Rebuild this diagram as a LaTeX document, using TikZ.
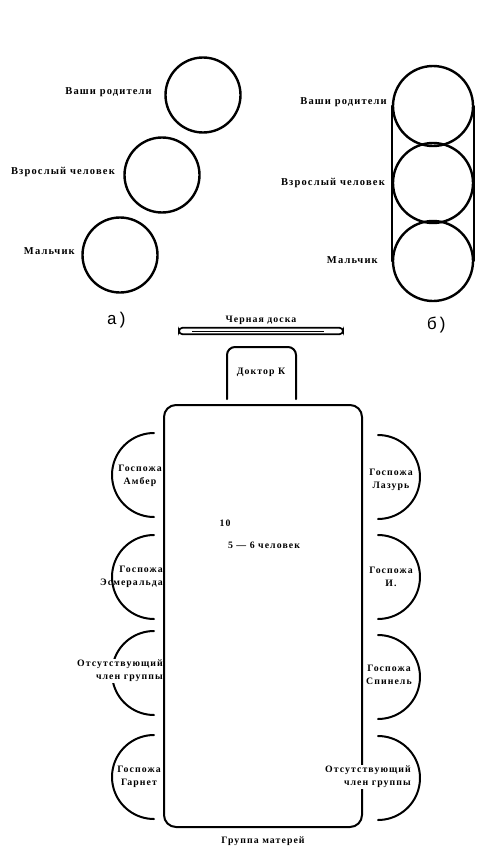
\documentclass[tikz,border=0pt]{standalone}
\usepackage{fontspec}
\setmainfont{Liberation Serif}[LetterSpace=11]
\newfontfamily\partfont{Liberation Mono}
\usetikzlibrary{positioning,calc}

\begin{document}
\begin{tikzpicture}[
    x=1pt, y=-1pt,
    ring/.style={circle, draw=black, line width=2.4pt, minimum size=75pt, inner sep=0pt},
    bigring/.style={ring, minimum size=80pt},
    tag/.style={font=\fontsize{10.5}{12}\selectfont\bfseries, inner sep=0pt},
    seat/.style={font=\fontsize{9.8}{13}\selectfont\bfseries, align=center, inner sep=1pt},
    part/.style={font=\partfont\fontsize{17}{17}\selectfont, inner sep=0pt},
    edge/.style={line width=2pt, line cap=round},
    board/.style={draw, line width=1.7pt, rounded corners=3.5pt, minimum width=164pt, minimum height=6.5pt, inner sep=0pt},
    table/.style={draw, line width=2pt, rounded corners=12pt, minimum width=198pt, minimum height=422pt}
]
\useasboundingbox (0,0) rectangle (481,851);

% a) circles apart
\node[ring] (parentsA) at (203,95) {};
\node[ring] (adultA) at (162,175) {};
\node[ring] (boyA) at (120,255) {};
\node[tag, anchor=east] (parentsAtext) at (152,92) {Ваши родители};
\node[tag, anchor=east] (adultAtext) at (115,172) {Взрослый человек};
\node[tag, anchor=east] (boyAtext) at (75,251) {Мальчик};
\node[part] (partA) at (117,320) {а)};

% b) circles held together
\node[bigring] (parentsB) at (433,106) {};
\node[bigring] (adultB) at (433,183) {};
\node[bigring] (boyB) at (433,261) {};
\draw[edge] (parentsB.west) -- (boyB.west);
\draw[edge] (parentsB.east) -- (boyB.east);
\node[tag, anchor=east] (parentsBtext) at (387,102) {Ваши родители};
\node[tag, anchor=east] (adultBtext) at (385,183) {Взрослый человек};
\node[tag, anchor=east] (boyBtext) at (378,260) {Мальчик};
\node[part] (partB) at (437,325) {б)};

% blackboard and doctor
\node[board] (board) at (261,331) {};
\draw[line width=0.6pt] ([xshift=14pt]board.west) -- ([xshift=-20pt]board.east);
\node[seat] (boardtext) at (261,320) {Черная доска};
\node[seat] (doctor) at (261,372) {Доктор К};
\draw[edge, rounded corners=8pt] (227,399) -- (227,347) -- (296,347) -- (296,399);

% seats on the left
\foreach \y in {475,577,673,777}
  \draw[edge] plot[domain=90:270, samples=40] ({154+42*cos(\x)},{\y+42*sin(\x)});
\node[seat] (amber) at (140,476) {Госпожа\\Амбер};
\node[seat, align=right, anchor=east] (esmeralda) at (164,577) {Госпожа\\Эсмеральда};
\node[seat, align=right, anchor=east, fill=white] (absentL) at (164,671) {Отсутствующий\\член группы};
\node[seat] (garnet) at (139,777) {Госпожа\\Гарнет};

% the table
\node[table] (table) at (263,616) {};
\node[seat] (ten) at (225,523) {10};
\node[seat] (count) at (264,545) {5 — 6 человек};
\node[seat] (group) at (263,841) {Группа матерей};

% seats on the right
\foreach \y in {477,577,677,778}
  \draw[edge] plot[domain=-90:90, samples=40] ({378+42*cos(\x)},{\y+42*sin(\x)});
\node[seat] (lazur) at (391,480) {Госпожа\\Лазурь};
\node[seat] (miss) at (391,577) {Госпожа\\И.};
\node[seat] (spinel) at (389,675) {Госпожа\\Спинель};
\node[seat, align=right, anchor=east, fill=white] (absentR) at (412,777) {Отсутствующий\\член группы};

\end{tikzpicture}
\end{document}
